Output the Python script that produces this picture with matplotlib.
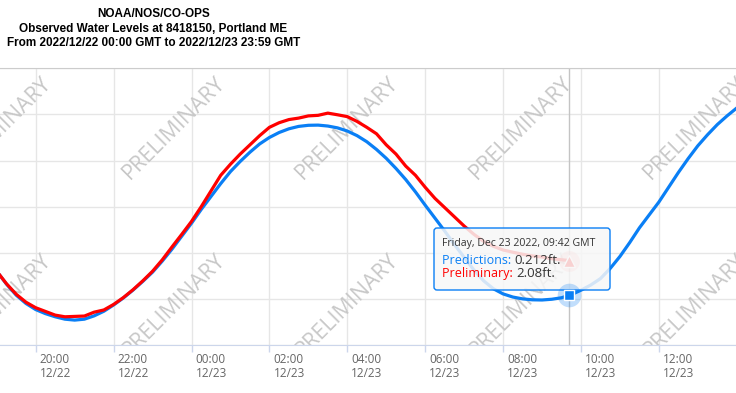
import matplotlib
matplotlib.use('Agg')
import matplotlib.pyplot as plt
from matplotlib.patches import FancyBboxPatch
from matplotlib.transforms import IdentityTransform, ScaledTranslation

# hours since 2022/12/22 00:00 GMT, read every 15 minutes
pred_hours = [19.0 + 0.25 * i for i in range(77)]
pred_ft = [1.5, 0.8, 0.2, -0.25,
           -0.58, -0.8, -0.97, -1.1,
           -1.15, -1.1, -0.92, -0.67,
           -0.33, 0.05, 0.48, 0.95,
           1.45, 2.05, 2.7, 3.4,
           4.1, 4.85, 5.55, 6.25,
           6.9, 7.45, 7.95, 8.4,
           8.75, 9.02, 9.22, 9.35,
           9.41, 9.42, 9.37, 9.27,
           9.1, 8.85, 8.52, 8.1,
           7.62, 7.07, 6.47, 5.8,
           5.08, 4.38, 3.68, 2.95,
           2.25, 1.57, 0.98, 0.55,
           0.27, 0.1, 0.0, -0.05,
           -0.06, -0.02, 0.06, 0.23,
           0.47, 0.75, 1.1, 1.65,
           2.3, 3.05, 3.85, 4.55,
           5.25, 6.05, 6.85, 7.6,
           8.3, 8.9, 9.45, 9.92,
           10.35]

obs_hours = [19.0 + 0.25 * i for i in range(59)] + [33.7]
obs_ft = [1.5, 0.82, 0.25, -0.18,
          -0.48, -0.68, -0.88, -0.97,
          -0.95, -0.93, -0.72, -0.6,
          -0.3, 0.07, 0.5, 0.98,
          1.5, 2.12, 2.82, 3.5,
          4.2, 5.0, 5.85, 6.7,
          7.3, 7.85, 8.35, 8.85,
          9.3, 9.55, 9.72, 9.8,
          9.92, 9.95, 10.07, 9.98,
          9.88, 9.62, 9.3, 8.95,
          8.35, 7.85, 7.2, 6.7,
          6.05, 5.45, 4.95, 4.45,
          3.95, 3.5, 3.12, 2.85,
          2.65, 2.53, 2.42, 2.33,
          2.27, 2.18, 2.12,
          2.08]

tick_hours = [20, 22, 24, 26, 28, 30, 32, 34, 36]
tick_labels = ['20:00\n12/22', '22:00\n12/22', '00:00\n12/23', '02:00\n12/23',
               '04:00\n12/23', '06:00\n12/23', '08:00\n12/23', '10:00\n12/23',
               '12:00\n12/23']
y_grid = [-2.5, 0, 2.5, 5, 7.5, 10, 12.5]

hover_time = 33.7
hover_label = 'Friday, Dec 23 2022, 09:42 GMT'
hover_pred = 0.212
hover_obs = 2.08

title_lines = ['NOAA/NOS/CO-OPS',
               'Observed Water Levels at 8418150, Portland ME',
               'From 2022/12/22 00:00 GMT to 2022/12/23 23:59 GMT']

BLUE = '#0a7ff5'
RED = '#ff0000'
W, H = 736, 393


def fy(py):
    return 1 - py / H


fig = plt.figure(figsize=(W / 100, H / 100), dpi=100)
ax = fig.add_axes([0, fy(345), 1, fy(68.3) - fy(345)])
ax.set_xlim(19.083, 37.98)
ax.set_ylim(-2.5, 12.5)

# grid / axes
ax.set_yticks(y_grid)
ax.tick_params(axis='y', length=0, labelleft=False)
ax.set_xticks(tick_hours)
ax.set_xticklabels(tick_labels, ha='left', fontsize=8.5, color='#666666',
                   family='Open Sans', linespacing=1.05)
ax.tick_params(axis='x', length=5, width=1, color='#ccd6eb', pad=1.0)
for lbl in ax.get_xticklabels():
    lbl.set_transform(lbl.get_transform() + ScaledTranslation(4 / 100, 0, fig.dpi_scale_trans))
ax.grid(True, color='#e6e6e6', lw=1, zorder=0)
ax.set_axisbelow(True)
for s in ('left', 'right'):
    ax.spines[s].set_visible(False)
ax.spines['top'].set_color('#cccccc')
ax.spines['bottom'].set_color('#ccd6eb')

# watermark (clipped to the plot area like the original)
for row_py in (128.5, 305.5):
    for col in range(5):
        ax.text((col * 173.7) / W, (345 - row_py) / 276.7, 'PRELIMINARY',
                transform=ax.transAxes, rotation=45, rotation_mode='anchor',
                ha='center', va='center', fontsize=15.5, family='Open Sans',
                color='#c8c8c8', clip_on=True, zorder=1)

# crosshair
ax.axvline(hover_time, color='#c4c4c4', lw=1, zorder=2)

# series
ax.plot(pred_hours, pred_ft, color=BLUE, lw=2.3, zorder=3, solid_capstyle='round')
ax.plot(obs_hours, obs_ft, color=RED, lw=2.3, zorder=4, solid_capstyle='round')

# hover markers
ax.plot(hover_time, hover_obs, 'o', ms=15, color=RED, alpha=0.2, mec='none', zorder=5)
ax.plot(hover_time, hover_obs, '^', ms=8, color=RED, mec='white', mew=1, zorder=5)

# tooltip
box = FancyBboxPatch((434, H - 290), 176, 62, boxstyle='round,pad=0,rounding_size=3',
                     fc=(0.97, 0.97, 0.97, 0.85), ec=BLUE, lw=1,
                     transform=IdentityTransform(), zorder=8, clip_on=False)
ax.add_artist(box)
ax.text(442, H - 243.3, hover_label, transform=IdentityTransform(), fontsize=7.6,
        family='Open Sans', color='#333333', va='center', ha='left', zorder=9)
fig.canvas.draw()
renderer = fig.canvas.get_renderer()
for name, val, col, py in (('Predictions: ', '%.3fft.' % hover_pred, BLUE, 260),
                           ('Preliminary: ', '%.2fft.' % hover_obs, RED, 273.3)):
    t = ax.text(442, H - py, name, transform=IdentityTransform(), fontsize=9,
                family='Open Sans', color=col, va='center', ha='left', zorder=9)
    ext = t.get_window_extent(renderer)
    ax.text(ext.x1, H - py, val, transform=IdentityTransform(), fontsize=9.5,
            family='Open Sans', color='#333333', va='center', ha='left', zorder=9)

ax.plot(hover_time, hover_pred, 'o', ms=17, color=BLUE, alpha=0.25, mec='none',
        zorder=10, clip_on=False)
ax.plot(hover_time, hover_pred, 's', ms=7.5, color=BLUE, mec='white', mew=1,
        zorder=11, clip_on=False)

# title
for py, line in zip((14, 29.3, 43.3), title_lines):
    fig.text(153.5 / W, fy(py), line, ha='center', va='center', fontsize=8.5,
             family='Liberation Sans', fontweight='bold', color='black')

fig.savefig('out.png', dpi=100)
